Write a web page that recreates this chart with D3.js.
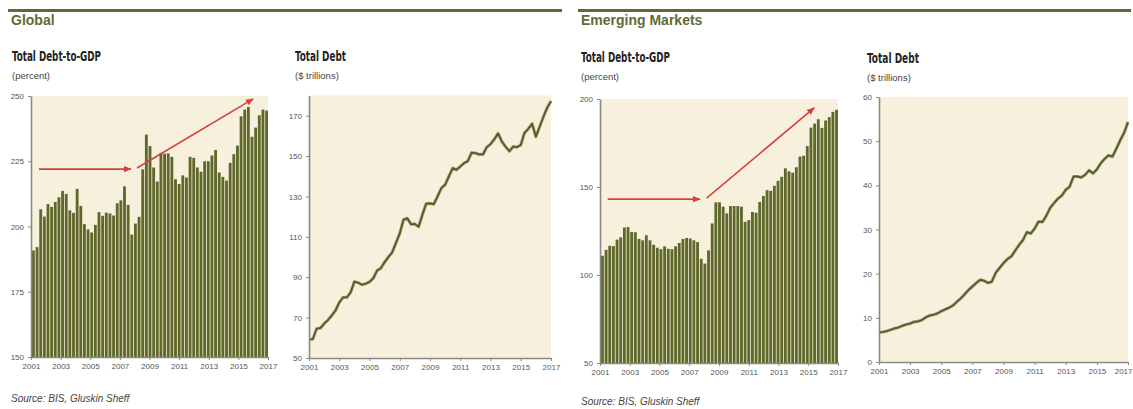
<!DOCTYPE html>
<html>
<head>
<meta charset="utf-8">
<script src="https://cdn.jsdelivr.net/npm/d3@7"></script>
<style>
  body { margin: 0; background: #fff; }
  svg { display: block; }
</style>
</head>
<body>
<svg id="chart" width="1133" height="409"></svg>
<script>
// Quarterly observations, 2001 Q1 through 2017 Q1
const yearTicks = [2001, 2003, 2005, 2007, 2009, 2011, 2013, 2015, 2017];

const globalDebtToGdp = [
  190.8, 192.1, 206.6, 203.8, 208.6, 207.5, 209.4, 211.2, 213.6, 212.5,
  206.2, 205.2, 214.4, 207.9, 200.9, 198.9, 197.7, 200.6, 205.5, 204.1,
  205.3, 205.0, 204.2, 208.9, 210.0, 215.4, 208.3, 196.9, 201.1, 203.7,
  221.9, 235.2, 230.8, 222.6, 217.2, 228.2, 227.9, 228.0, 226.7, 218.1,
  216.3, 219.6, 218.8, 226.7, 226.3, 222.6, 221.0, 225.0, 225.0, 227.2,
  229.3, 220.7, 219.0, 217.6, 224.4, 227.7, 231.0, 242.2, 244.8, 245.8,
  234.4, 237.9, 242.6, 244.8, 244.4
];

const globalTotalDebt = [
  59.2, 59.3, 64.5, 64.8, 67.0, 68.8, 71.0, 73.5, 77.5, 80.0,
  80.0, 82.5, 87.8, 87.3, 86.3, 86.8, 87.7, 89.5, 93.3, 94.5,
  97.5, 100.0, 102.3, 107.0, 111.7, 118.5, 119.2, 116.2, 116.4, 115.0,
  121.0, 126.5, 126.6, 126.2, 130.0, 134.1, 135.8, 140.0, 144.0, 143.2,
  144.8, 146.5, 147.5, 151.7, 151.5, 150.8, 150.8, 154.4, 155.9, 158.3,
  161.2, 157.2, 154.6, 152.4, 154.7, 154.4, 155.5, 161.5, 163.5, 166.0,
  159.6, 164.5, 169.5, 174.0, 177.2
];

const emDebtToGdp = [
  110.9, 114.3, 116.6, 116.4, 120.1, 121.4, 127.0, 127.2, 124.5, 124.3,
  120.5, 119.7, 122.6, 119.7, 117.2, 115.5, 114.7, 116.3, 114.9, 114.7,
  116.3, 118.2, 120.5, 121.0, 120.7, 119.7, 118.7, 109.2, 106.5, 114.0,
  129.3, 141.3, 141.3, 138.8, 135.0, 139.2, 139.2, 139.2, 138.8, 130.2,
  131.2, 135.8, 135.4, 141.5, 144.9, 148.2, 147.8, 150.7, 153.5, 155.8,
  160.6, 158.9, 158.1, 161.2, 167.3, 167.7, 173.2, 183.7, 186.0, 188.5,
  183.6, 187.8, 189.7, 192.7, 193.9
];

const emTotalDebt = [
  6.7, 6.8, 7.0, 7.3, 7.6, 7.8, 8.2, 8.5, 8.7, 9.1,
  9.2, 9.5, 10.1, 10.5, 10.7, 11.0, 11.5, 11.9, 12.3, 12.8,
  13.6, 14.4, 15.3, 16.3, 17.1, 17.9, 18.6, 18.4, 17.9, 18.2,
  20.2, 21.3, 22.4, 23.3, 23.9, 25.2, 26.5, 27.6, 29.4, 29.1,
  30.2, 31.8, 31.7, 33.1, 34.9, 36.0, 37.0, 37.7, 39.0, 39.7,
  42.0, 42.0, 41.8, 42.4, 43.4, 42.7, 43.6, 45.0, 46.0, 46.8,
  46.5, 48.3, 50.2, 51.9, 54.3
];

const globalPctTicks = [150, 175, 200, 225, 250];
const globalDebtTicks = [50, 70, 90, 110, 130, 150, 170];
const emPctTicks = [50, 100, 150, 200];
const emDebtTicks = [0, 10, 20, 30, 40, 50, 60];

// Trend annotations: [startYear, startValue, endYear, endValue]
const globalArrows = [[2001.54, 222.0, 2007.75, 222.0], [2008.16, 222.4, 2016.0, 248.9]];
const emArrows = [[2001.52, 143.1, 2007.72, 143.1], [2008.17, 143.7, 2015.4, 195.0]];

const quarterOf = i => 2001 + i / 4;

const C = {
  olive: "#5e6b37",
  bar: "#5f682b",
  line: "#535c28",
  bg: "#f6f0dd",
  axis: "#8a8a80",
  tickText: "#555",
  red: "#d8403c"
};

const svg = d3.select("#chart");

svg.append("defs").append("marker")
  .attr("id", "arrowhead")
  .attr("viewBox", "0 0 10 10")
  .attr("refX", 9).attr("refY", 5)
  .attr("markerWidth", 5).attr("markerHeight", 5)
  .attr("orient", "auto")
  .append("path").attr("d", "M0,1 L10,5 L0,9 Z").attr("fill", C.red);

const headFont = "'Liberation Sans', Arial, sans-serif";
const narrowFont = "'Liberation Sans Narrow', 'DejaVu Sans Condensed', sans-serif";

function section(x0, x1, title, source, sourceY) {
  svg.append("rect").attr("x", x0).attr("y", 9).attr("width", x1 - x0).attr("height", 3)
    .attr("fill", C.olive);
  svg.append("text").attr("x", x0 + 3).attr("y", 25).text(title)
    .attr("font-family", headFont).attr("font-weight", "bold").attr("font-size", 14)
    .attr("fill", C.olive);
  svg.append("text").attr("x", x0 + 3).attr("y", sourceY).text(source)
    .attr("font-family", headFont).attr("font-style", "italic").attr("font-size", 10)
    .attr("fill", "#444");
}

// Bold condensed panel heading, squeezed to a fixed width
function panelTitles(x, y, title, titleWidth, unit) {
  svg.append("text").attr("x", x).attr("y", y).text(title)
    .attr("font-family", narrowFont).attr("font-weight", "bold").attr("font-size", 14)
    .attr("textLength", titleWidth).attr("lengthAdjust", "spacingAndGlyphs")
    .attr("fill", "#222");
  svg.append("text").attr("x", x).attr("y", y + 18).text(unit)
    .attr("font-family", headFont).attr("font-size", 9.5).attr("fill", "#444");
}

function axes(g, xYear, y, yTicks, bottom, lastLabelEnd) {
  const yAxis = d3.axisLeft(y).tickValues(yTicks).tickSize(3).tickSizeOuter(0).tickPadding(4);
  const ya = g.append("g").attr("transform", `translate(${xYear.range()[0]},0)`).call(yAxis);
  const xAxis = d3.axisBottom(xYear).tickValues(yearTicks).tickFormat(d3.format("d"))
    .tickSize(3).tickSizeOuter(0).tickPadding(3);
  const xa = g.append("g").attr("transform", `translate(0,${bottom})`).call(xAxis);
  [ya, xa].forEach(a => {
    a.select(".domain").attr("stroke", C.axis).attr("stroke-width", 1.6);
    a.selectAll(".tick line").attr("stroke", C.axis);
    a.selectAll("text").attr("font-family", headFont).attr("font-size", 8)
      .attr("fill", C.tickText);
  });
  if (lastLabelEnd) {
    xa.selectAll(".tick text").filter(d => d === 2017).attr("text-anchor", "end").attr("dx", 4);
  }
}

function barPanel(opt) {
  const g = svg.append("g");
  const y = d3.scaleLinear().domain(opt.domain).range([opt.bottom, opt.top]);
  const xYear = d3.scaleLinear().domain([2001, 2017]).range([opt.x0, opt.x1]);
  const xb = d3.scaleBand().domain(d3.range(opt.values.length)).range([opt.x0 + 1, opt.x1]).paddingInner(0.22);
  g.append("rect").attr("x", opt.x0).attr("y", y(opt.domain[1]))
    .attr("width", opt.x1 - opt.x0).attr("height", opt.bottom - y(opt.domain[1])).attr("fill", C.bg);
  g.selectAll("rect.bar").data(opt.values).join("rect").attr("class", "bar")
    .attr("x", (d, i) => xb(i)).attr("width", xb.bandwidth())
    .attr("y", d => y(d)).attr("height", d => opt.bottom - y(d))
    .attr("fill", C.bar);
  opt.arrows.forEach(a => {
    g.append("line")
      .attr("x1", xYear(a[0])).attr("y1", y(a[1]))
      .attr("x2", xYear(a[2])).attr("y2", y(a[3]))
      .attr("stroke", C.red).attr("stroke-width", 1.6)
      .attr("marker-end", "url(#arrowhead)");
  });
  axes(g, xYear, y, opt.ticks, opt.bottom, false);
}

function linePanel(opt) {
  const g = svg.append("g");
  const y = d3.scaleLinear().domain(opt.domain).range([opt.bottom, opt.top]);
  const xYear = d3.scaleLinear().domain([2001, 2017]).range([opt.x0, opt.x1]);
  g.append("rect").attr("x", opt.x0).attr("y", opt.top)
    .attr("width", opt.x1 - opt.x0).attr("height", opt.bottom - opt.top).attr("fill", C.bg);
  const line = d3.line().x((d, i) => xYear(quarterOf(i))).y(d => y(d));
  g.append("path").datum(opt.values).attr("d", line)
    .attr("fill", "none").attr("stroke", "#a9ad80").attr("stroke-width", 3.2)
    .attr("stroke-linejoin", "round");
  g.append("path").datum(opt.values).attr("d", line)
    .attr("fill", "none").attr("stroke", C.line).attr("stroke-width", 1.8)
    .attr("stroke-linejoin", "round");
  axes(g, xYear, y, opt.ticks, opt.bottom, opt.lastLabelEnd);
}

// Global
section(8, 562, "Global", "Source: BIS, Gluskin Sheff", 402);
panelTitles(12, 61, "Total Debt-to-GDP", 89, "(percent)");
panelTitles(295, 61, "Total Debt", 51, "($ trillions)");
barPanel({ x0: 31, x1: 268, top: 96, bottom: 357, domain: [150, 250],
  values: globalDebtToGdp, ticks: globalPctTicks, arrows: globalArrows });
linePanel({ x0: 309, x1: 551, top: 95.5, bottom: 358, domain: [50, 180],
  values: globalTotalDebt, ticks: globalDebtTicks, lastLabelEnd: false });

// Emerging Markets
section(578, 1131, "Emerging Markets", "Source: BIS, Gluskin Sheff", 405);
panelTitles(581, 62, "Total Debt-to-GDP", 89, "(percent)");
panelTitles(867, 63, "Total Debt", 52, "($ trillions)");
barPanel({ x0: 600, x1: 838, top: 99, bottom: 363, domain: [50, 200],
  values: emDebtToGdp, ticks: emPctTicks, arrows: emArrows });
linePanel({ x0: 879, x1: 1128, top: 97, bottom: 362, domain: [0, 60],
  values: emTotalDebt, ticks: emDebtTicks, lastLabelEnd: true });
</script>
</body>
</html>
